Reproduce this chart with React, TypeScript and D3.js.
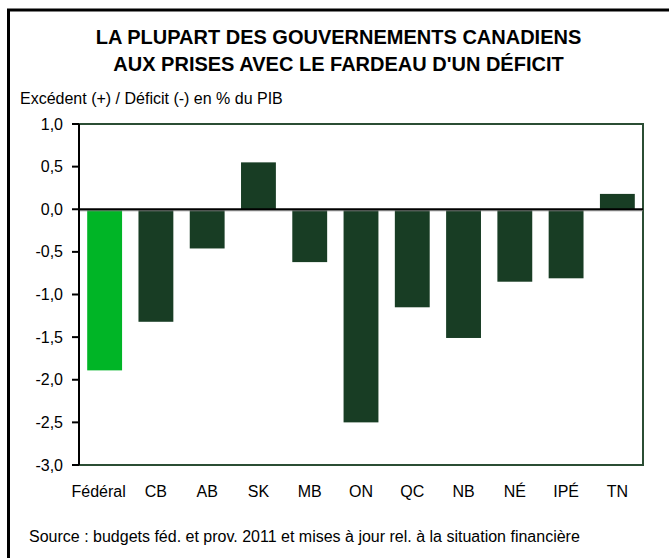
import { scaleBand, scaleLinear } from "d3";

const categories = ["Fédéral", "CB", "AB", "SK", "MB", "ON", "QC", "NB", "NÉ", "IPÉ", "TN"];
const balances = [-1.89, -1.32, -0.46, 0.55, -0.62, -2.5, -1.15, -1.51, -0.85, -0.81, 0.18];
const yTicks = [1.0, 0.5, 0.0, -0.5, -1.0, -1.5, -2.0, -2.5, -3.0];
const titleLines = ["LA PLUPART DES GOUVERNEMENTS CANADIENS", "AUX PRISES AVEC LE FARDEAU D'UN DÉFICIT"];
const yLabel = "Excédent (+) / Déficit (-) en % du PIB";
const source = "Source : budgets féd. et prov. 2011 et mises à jour rel. à la situation financière";

const width = 669;
const height = 558;
const plot = { left: 79, right: 643, top: 124, bottom: 465 };
const font = "'Liberation Sans', Arial, sans-serif";
const dark = "#183d24";
const federal = "#00b526";
const frame = "#2b4d34";

const fmt = (v: number) => v.toFixed(1).replace(".", ",");

export default function App() {
  const x = scaleBand<string>()
    .domain(categories)
    .range([plot.left, plot.right])
    .paddingInner(0.32)
    .paddingOuter(0.16);
  const y = scaleLinear().domain([-3, 1]).range([plot.bottom, plot.top]);

  return (
    <svg
      width={width}
      height={height}
      style={{ position: "absolute", left: 0, top: 0, background: "white" }}
      fontFamily={font}
    >
      {/* outer frame, only top and left edges show */}
      <path d={`M8.5,${height} L8.5,10 L${width},10`} fill="none" stroke="#000" strokeWidth={3} />

      {titleLines.map((t, i) => (
        <text key={t} x={338.5} y={44 + i * 27} textAnchor="middle" fontSize={20} fontWeight="bold" fill="#000">
          {t}
        </text>
      ))}
      <text x={20} y={104} fontSize={16} fill="#000">
        {yLabel}
      </text>

      {/* plot frame */}
      <rect
        x={plot.left}
        y={plot.top}
        width={plot.right - plot.left}
        height={plot.bottom - plot.top}
        fill="white"
        stroke={frame}
        strokeWidth={2}
      />

      {categories.map((c, i) => {
        const v = balances[i];
        return (
          <rect
            key={c}
            x={x(c)}
            y={y(Math.max(0, v))}
            width={x.bandwidth()}
            height={Math.abs(y(v) - y(0))}
            fill={i === 0 ? federal : dark}
          />
        );
      })}

      {/* zero line */}
      <line x1={plot.left} x2={plot.right} y1={y(0) + 1.5} y2={y(0) + 1.5} stroke="#888" strokeWidth={1} />
      <line x1={plot.left} x2={plot.right} y1={y(0)} y2={y(0)} stroke="#000" strokeWidth={2} />

      {/* y axis */}
      <line x1={plot.left} x2={plot.left} y1={plot.top} y2={plot.bottom} stroke="#000" strokeWidth={2} />
      {yTicks.map((t) => (
        <g key={t}>
          <line x1={72} x2={plot.left} y1={y(t)} y2={y(t)} stroke="#000" strokeWidth={2} />
          <text x={63} y={y(t)} dy="0.35em" textAnchor="end" fontSize={16} fill="#000">
            {fmt(t)}
          </text>
        </g>
      ))}

      {categories.map((c, i) => (
        <text
          key={c}
          x={(x(c) ?? 0) + x.bandwidth() / 2 - (i === 0 ? 6 : 0)}
          y={497}
          textAnchor="middle"
          fontSize={16}
          fill="#000"
        >
          {c}
        </text>
      ))}

      <text x={29} y={542} fontSize={16} fill="#000">
        {source}
      </text>
    </svg>
  );
}
